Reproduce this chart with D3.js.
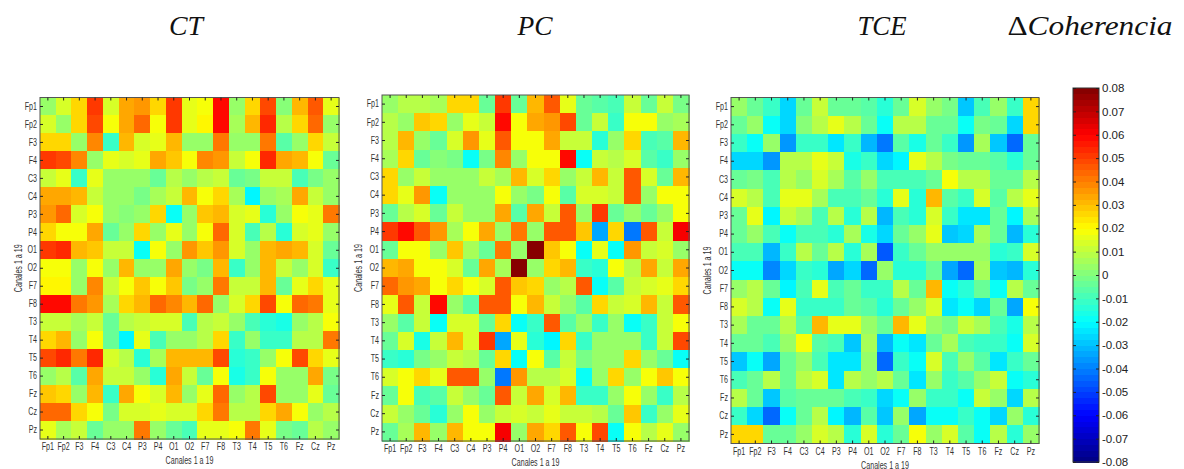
<!DOCTYPE html>
<html><head><meta charset="utf-8">
<script src="https://cdn.jsdelivr.net/npm/d3@7"></script>
<style>
body{margin:0;background:#fff}
.tick text{font-family:"Liberation Sans",Arial,sans-serif;font-size:10px;fill:#333}
.cb .tick text{font-family:"Liberation Sans",Arial,sans-serif;font-size:11.5px;fill:#222}
</style>
</head><body>
<svg id="c" width="1184" height="469"></svg>
<script>
const channels = ["Fp1","Fp2","F3","F4","C3","C4","P3","P4","O1","O2","F7","F8","T3","T4","T5","T6","Fz","Cz","Pz"];

const ctValues = [
[0.003,0.013,0.027,0.052,0.013,0.033,0.037,0.025,0.05,0.017,0.02,0.06,0.005,0.025,0.048,0.0,0.03,0.045,0.015],
[0.013,0.003,0.027,0.048,0.018,0.033,0.043,0.02,0.052,0.017,0.022,0.06,0.007,0.032,0.055,0.008,0.027,0.043,0.005],
[0.027,0.027,0.003,0.038,-0.01,0.032,0.013,0.017,0.032,0.004,0.004,0.04,0.005,0.003,0.04,-0.006,0.005,0.027,0.01],
[0.052,0.048,0.038,0.003,0.015,0.013,0.017,0.033,0.028,0.02,0.038,0.036,0.012,0.02,0.053,0.034,0.031,0.02,-0.005],
[0.012,0.017,-0.01,0.015,0.004,0.004,0.004,-0.003,0.008,0.005,0.009,0.01,-0.003,-0.002,0.01,0.011,-0.008,-0.002,0.004],
[0.033,0.033,0.03,0.01,0.004,0.004,-0.002,0.006,0.01,0.03,0.02,0.025,0.007,-0.022,0.005,0.007,0.033,0.012,0.004],
[0.037,0.043,0.014,0.018,0.004,0.002,0.004,0.025,-0.02,0.004,0.028,0.03,0.013,0.017,-0.014,0.003,0.02,0.015,0.04],
[0.026,0.02,0.018,0.033,-0.004,0.004,0.025,0.005,0.017,0.004,0.02,0.044,0.013,-0.008,0.009,-0.014,0.013,0.015,0.005],
[0.05,0.053,0.032,0.028,0.01,0.01,-0.02,0.018,0.005,0.035,0.028,0.037,0.013,0.003,0.03,0.034,0.03,0.014,-0.003],
[0.018,0.018,0.005,0.02,0.004,0.03,0.005,0.005,0.034,0.003,-0.002,0.031,-0.01,0.003,0.032,0.01,0.005,0.014,-0.01],
[0.022,0.022,0.005,0.038,0.01,0.02,0.028,0.02,0.028,-0.002,0.004,0.04,0.01,0.01,0.032,-0.005,0.015,0.027,0.015],
[0.06,0.06,0.04,0.037,0.007,0.026,0.031,0.044,0.038,0.032,0.043,0.004,0.013,0.025,0.048,0.02,0.044,0.04,0.016],
[0.01,0.01,0.007,0.012,-0.004,0.008,0.012,0.013,0.013,-0.009,0.009,0.012,0.004,-0.009,-0.013,-0.016,0.005,0.008,0.02],
[0.025,0.032,0.004,0.02,-0.003,-0.022,0.017,-0.008,0.003,0.003,0.008,0.025,-0.01,0.003,-0.01,-0.012,0.009,0.008,0.04],
[0.048,0.055,0.04,0.053,0.014,0.008,-0.014,0.007,0.03,0.032,0.032,0.048,-0.013,-0.01,0.005,0.02,0.048,0.027,0.015],
[0.003,0.008,-0.006,0.034,0.01,0.01,0.004,-0.014,0.034,0.01,-0.004,0.02,-0.017,-0.012,0.02,0.004,0.005,0.034,-0.002],
[0.029,0.027,0.005,0.031,-0.01,0.033,0.02,0.013,0.031,0.005,0.015,0.044,0.004,0.009,0.048,0.005,0.005,0.017,-0.004],
[0.043,0.043,0.027,0.02,-0.002,0.013,0.014,0.015,0.014,0.014,0.027,0.04,0.008,0.008,0.027,0.033,0.018,0.005,0.009],
[0.015,0.006,0.01,-0.005,0.004,0.004,0.04,0.005,-0.003,-0.009,0.015,0.016,0.02,0.04,0.015,-0.002,-0.004,0.009,0.005]
];

const pcValues = [
[0.004,0.009,0.009,0.006,0.027,0.026,-0.003,0.052,-0.004,0.032,0.045,0.015,-0.004,-0.006,-0.009,0.012,-0.005,0.01,-0.002],
[0.009,0.004,0.028,0.025,0.005,0.016,0.01,0.06,0.02,0.034,0.037,0.048,-0.005,0.012,-0.01,0.02,0.018,0.003,0.006],
[0.009,0.03,0.003,-0.003,0.013,0.036,0.015,0.046,0.018,0.02,0.034,0.011,0.01,-0.015,0.003,0.025,-0.008,-0.007,0.03],
[0.006,0.026,-0.003,0.002,-0.002,-0.018,-0.002,0.038,0.005,0.02,0.02,0.06,-0.02,0.01,0.009,0.013,-0.007,-0.012,0.003],
[0.025,0.005,0.012,0.003,0.004,0.004,0.01,0.007,0.03,0.013,0.027,0.005,0.012,0.031,0.011,0.045,0.013,-0.003,0.03],
[0.027,0.016,0.036,-0.018,0.004,0.004,0.004,0.02,0.005,-0.002,0.02,-0.006,0.013,0.013,0.01,0.047,0.003,0.02,0.02],
[-0.003,0.009,0.013,-0.003,0.01,0.004,0.004,0.033,-0.006,0.034,0.012,0.045,0.004,0.05,-0.004,0.005,-0.003,0.003,0.02],
[0.052,0.06,0.047,0.037,0.007,0.02,0.034,0.005,0.04,0.004,0.047,0.046,0.028,-0.035,0.026,-0.042,0.045,0.01,0.062],
[-0.004,0.02,0.019,0.005,0.028,0.006,-0.005,0.04,0.005,0.08,0.028,0.02,-0.02,0.015,-0.018,0.037,0.01,0.014,0.005],
[0.032,0.034,0.02,0.02,0.013,-0.004,0.034,0.006,0.08,0.004,0.027,0.03,-0.01,-0.013,0.02,0.009,0.033,0.01,0.033],
[0.044,0.037,0.033,0.02,0.026,0.02,0.013,0.047,0.028,0.025,0.005,0.008,0.047,-0.02,-0.006,0.01,0.014,0.016,0.026],
[0.016,0.047,0.012,0.06,0.005,-0.006,0.046,0.046,0.02,0.031,0.01,0.005,-0.007,0.027,0.012,0.013,0.031,0.01,0.046],
[0.004,-0.006,0.01,-0.019,0.013,0.013,-0.003,0.027,-0.02,-0.01,0.047,-0.007,0.004,-0.011,0.003,-0.018,-0.01,0.01,0.02],
[-0.005,0.013,-0.016,0.011,0.031,0.013,0.05,-0.034,0.015,-0.014,-0.021,0.027,-0.012,0.004,0.005,0.003,-0.012,0.01,0.048],
[-0.012,-0.013,-0.002,0.004,0.01,0.009,-0.003,0.027,-0.018,0.02,-0.006,0.01,-0.002,0.005,0.004,0.026,0.004,-0.004,-0.02],
[0.013,0.02,0.026,0.015,0.045,0.047,0.005,-0.042,0.037,0.009,0.009,0.013,-0.02,0.004,0.026,0.005,0.018,0.028,0.02],
[-0.004,0.018,-0.008,-0.006,0.012,0.005,-0.003,0.045,0.01,0.033,0.014,0.031,-0.01,-0.012,0.004,0.018,0.004,-0.01,0.008],
[0.011,0.005,-0.005,-0.013,0.003,0.02,0.004,0.011,0.014,0.01,0.016,0.01,0.01,0.009,-0.003,0.028,-0.01,0.004,0.015],
[-0.003,0.007,0.03,0.004,0.03,0.02,0.02,0.062,0.005,0.033,0.026,0.046,0.02,0.048,-0.02,0.02,0.008,0.015,0.004]
];

const tceValues = [
[0.004,-0.004,-0.01,-0.025,-0.004,0.012,-0.004,-0.003,-0.007,-0.015,-0.004,0.013,0.004,-0.002,-0.028,-0.009,0.005,-0.01,0.027],
[-0.004,0.005,-0.02,-0.026,0.002,0.009,0.015,0.008,-0.005,-0.02,0.008,0.008,-0.003,-0.003,-0.02,-0.002,-0.003,-0.026,0.025],
[-0.01,-0.02,0.005,-0.037,-0.01,-0.01,-0.023,-0.01,-0.032,-0.04,-0.006,-0.016,-0.004,-0.01,-0.036,0.006,-0.03,-0.045,-0.003],
[-0.026,-0.026,-0.036,0.008,0.009,0.015,0.01,-0.016,-0.01,-0.027,-0.021,0.016,0.008,-0.002,-0.004,-0.004,-0.007,-0.015,-0.003],
[-0.003,-0.002,-0.009,0.008,0.005,0.013,0.006,-0.007,0.004,-0.009,-0.009,-0.009,-0.005,0.018,0.008,0.008,-0.004,-0.005,0.008],
[0.014,0.009,-0.009,0.016,0.015,0.006,-0.008,-0.008,-0.005,-0.013,0.016,-0.013,0.03,-0.007,-0.011,0.014,-0.006,0.009,0.015],
[-0.005,0.016,-0.022,0.011,0.006,-0.008,0.008,-0.014,0.009,-0.032,-0.009,-0.013,0.014,-0.01,-0.024,-0.024,-0.005,-0.022,0.007],
[-0.004,0.005,-0.009,-0.018,-0.009,-0.009,-0.015,0.006,-0.016,-0.025,-0.004,0.003,0.015,-0.029,-0.025,0.006,-0.005,-0.031,-0.013],
[-0.009,-0.009,-0.031,-0.01,0.008,-0.004,0.009,-0.015,0.006,-0.047,-0.012,-0.005,0.004,0.004,0.004,0.004,-0.013,-0.01,0.014],
[-0.018,-0.018,-0.038,-0.026,-0.01,-0.013,-0.035,-0.027,-0.045,0.005,-0.013,-0.015,-0.004,-0.035,-0.045,0.006,-0.028,-0.032,-0.013],
[0.004,0.008,-0.004,-0.021,-0.009,0.016,-0.009,-0.005,-0.012,-0.012,0.008,-0.004,0.03,-0.018,-0.013,-0.004,-0.019,0.009,-0.004],
[0.013,0.008,-0.019,0.016,-0.011,-0.011,-0.011,-0.004,-0.006,-0.014,-0.004,0.004,0.013,-0.024,-0.02,-0.025,-0.004,-0.035,0.02],
[0.006,-0.004,-0.004,0.008,-0.006,0.03,0.015,0.016,0.005,-0.003,0.031,0.015,0.005,-0.002,0.011,0.007,-0.009,-0.017,0.008],
[-0.004,-0.004,-0.008,0.005,0.018,-0.006,-0.008,-0.03,0.006,-0.032,-0.019,-0.024,-0.004,0.006,-0.008,-0.01,-0.01,-0.018,0.014],
[-0.028,-0.019,-0.035,-0.003,0.005,-0.008,-0.023,-0.023,0.003,-0.045,-0.012,-0.02,0.013,-0.009,0.005,-0.006,-0.023,-0.01,-0.005],
[-0.008,-0.003,0.008,-0.003,0.008,0.014,-0.023,0.008,0.004,0.009,-0.004,-0.024,0.005,-0.01,-0.006,0.004,0.012,-0.02,-0.013],
[0.009,-0.003,-0.028,-0.007,-0.003,-0.004,-0.003,-0.008,-0.01,-0.025,-0.018,0.005,-0.01,-0.01,-0.02,0.012,0.005,-0.026,0.008],
[-0.01,-0.025,-0.043,-0.019,-0.005,0.008,-0.022,-0.032,-0.006,-0.03,0.005,-0.033,-0.019,-0.019,-0.012,-0.018,-0.027,0.005,-0.013],
[0.027,0.025,-0.004,-0.004,0.005,0.014,0.008,-0.014,0.014,-0.014,-0.005,0.02,0.004,0.013,-0.006,-0.018,0.008,-0.013,0.005]
];

const panelTitles = ["CT","PC","TCE"];
const legendTitle = "ΔCoherencia";
const axisLabel = "Canales 1 a 19";
const colorbarTicks = [0.08,0.07,0.06,0.05,0.04,0.03,0.02,0.01,0,-0.01,-0.02,-0.03,-0.04,-0.05,-0.06,-0.07,-0.08];
const valueDomain = [-0.08, 0.08];

// MATLAB "jet" colormap
function jet(t){
  const c = v => Math.max(0, Math.min(1, v));
  const r = c(1.5 - Math.abs(4*t - 3));
  const g = c(1.5 - Math.abs(4*t - 2));
  const b = c(1.5 - Math.abs(4*t - 1));
  return d3.rgb(r*255, g*255, b*255).formatHex();
}
const nLevels = 64;
const color = d3.scaleQuantize().domain(valueDomain)
  .range(d3.range(nLevels).map(i => jet((i + 0.5) / nLevels)));

const svg = d3.select("#c");
const narrow = 0.71;
function condense(sel){
  sel.each(function(){
    const len = this.getComputedTextLength();
    d3.select(this).attr("textLength", len * narrow).attr("lengthAdjust", "spacingAndGlyphs");
  });
}

const panels = [
  {data: ctValues,  title: panelTitles[0], x0: 40,  x1: 339,  y0: 97.5, y1: 439,   tx: 186, ylx: 18},
  {data: pcValues,  title: panelTitles[1], x0: 382, x1: 689,  y0: 95,   y1: 441,   tx: 535, ylx: 358},
  {data: tceValues, title: panelTitles[2], x0: 731, x1: 1039, y0: 97.5, y1: 443.5, tx: 882, ylx: 707}
];

const titleWidths = {"CT": 34, "PC": 35, "TCE": 49};

panels.forEach(p => {
  const x = d3.scaleBand().domain(channels).range([p.x0, p.x1]);
  const y = d3.scaleBand().domain(channels).range([p.y0, p.y1]);
  const g = svg.append("g");
  const cells = [];
  p.data.forEach((row, i) => row.forEach((v, j) => cells.push({r: channels[i], c: channels[j], v})));
  g.selectAll("rect.cell").data(cells).join("rect")
    .attr("class", "cell")
    .attr("x", d => x(d.c)).attr("y", d => y(d.r))
    .attr("width", x.bandwidth() + 0.5).attr("height", y.bandwidth() + 0.5)
    .attr("fill", d => color(d.v))
    .attr("shape-rendering", "crispEdges");

  // frame
  g.append("rect").attr("x", p.x0).attr("y", p.y0)
    .attr("width", p.x1 - p.x0).attr("height", p.y1 - p.y0)
    .attr("fill", "none").attr("stroke", "#555").attr("stroke-width", 1);

  const style = ax => { ax.select(".domain").remove(); ax.selectAll(".tick line").attr("stroke", "#222"); };
  const left = g.append("g").attr("transform", `translate(${p.x0},0)`)
    .call(d3.axisLeft(y).tickSizeInner(-3).tickSizeOuter(0).tickPadding(3));
  style(left);
  const bottom = g.append("g").attr("transform", `translate(0,${p.y1})`)
    .call(d3.axisBottom(x).tickSizeInner(-3).tickSizeOuter(0).tickPadding(4));
  style(bottom);
  condense(left.selectAll(".tick text"));
  condense(bottom.selectAll(".tick text"));
  const top = g.append("g").attr("transform", `translate(0,${p.y0})`)
    .call(d3.axisTop(x).tickSizeInner(-3).tickSizeOuter(0).tickFormat(""));
  style(top);
  const right = g.append("g").attr("transform", `translate(${p.x1},0)`)
    .call(d3.axisRight(y).tickSizeInner(-3).tickSizeOuter(0).tickFormat(""));
  style(right);

  const xl = g.append("text").attr("x", (p.x0 + p.x1) / 2).attr("y", p.y1 + 25)
    .attr("text-anchor", "middle")
    .style("font-family", '"Liberation Sans",Arial,sans-serif')
    .style("font-size", "10px").attr("fill", "#333").text(axisLabel);
  condense(xl);
  const yl = g.append("text").attr("transform", `translate(${p.ylx},${(p.y0 + p.y1) / 2}) rotate(-90)`)
    .attr("text-anchor", "middle").attr("dy", "0.35em")
    .style("font-family", '"Liberation Sans",Arial,sans-serif')
    .style("font-size", "10px").attr("fill", "#333").text(axisLabel);
  condense(yl);

  svg.append("text").attr("x", p.tx).attr("y", 35).attr("text-anchor", "middle")
    .style("font-family", '"Liberation Serif","DejaVu Serif",serif').style("font-style", "italic")
    .style("font-size", "28px").attr("fill", "#111")
    .attr("textLength", titleWidths[p.title]).attr("lengthAdjust", "spacingAndGlyphs")
    .text(p.title);
});

// legend title
const lt = svg.append("text").attr("x", 1090).attr("y", 35).attr("text-anchor", "middle")
  .style("font-family", '"Liberation Serif","DejaVu Serif",serif')
  .style("font-size", "28px").attr("fill", "#111")
  .attr("textLength", 165).attr("lengthAdjust", "spacingAndGlyphs");
lt.append("tspan").style("font-style", "normal").text(legendTitle.slice(0, 1));
lt.append("tspan").style("font-style", "italic").text(legendTitle.slice(1));

// colorbar
const cb = {x0: 1073, x1: 1099, y0: 88, y1: 462};
const cbScale = d3.scaleLinear().domain(valueDomain).range([cb.y1, cb.y0]);
const levels = color.range().map((c, i) => ({c, ext: color.invertExtent(c)}));
const cbg = svg.append("g");
cbg.selectAll("rect.lv").data(levels).join("rect").attr("class", "lv")
  .attr("x", cb.x0).attr("width", cb.x1 - cb.x0)
  .attr("y", d => cbScale(d.ext[1])).attr("height", d => cbScale(d.ext[0]) - cbScale(d.ext[1]) + 0.5)
  .attr("fill", d => d.c).attr("shape-rendering", "crispEdges");
cbg.append("rect").attr("x", cb.x0).attr("y", cb.y0).attr("width", cb.x1 - cb.x0).attr("height", cb.y1 - cb.y0)
  .attr("fill", "none").attr("stroke", "#333");
const cbAx = cbg.append("g").attr("class", "cb").attr("transform", `translate(${cb.x1},0)`)
  .call(d3.axisRight(cbScale).tickValues(colorbarTicks).tickSizeInner(-3).tickSizeOuter(0).tickPadding(3)
    .tickFormat(d => d === 0 ? "0" : d3.format(".2f")(d).replace("−", "-")));
cbAx.select(".domain").remove();
cbAx.selectAll(".tick line").attr("stroke", "#222");
const cbAxL = cbg.append("g").attr("transform", `translate(${cb.x0},0)`)
  .call(d3.axisLeft(cbScale).tickValues(colorbarTicks).tickSizeInner(-3).tickSizeOuter(0).tickFormat(""));
cbAxL.select(".domain").remove();
cbAxL.selectAll(".tick line").attr("stroke", "#222");
</script>
</body></html>
